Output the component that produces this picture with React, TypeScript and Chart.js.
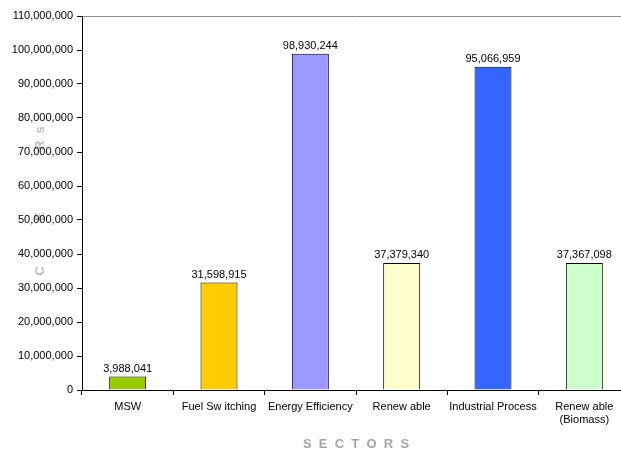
import React, { useEffect, useRef } from "react";
import { Chart, registerables } from "chart.js";

Chart.register(...registerables);

const categories: (string | string[])[] = [
  "MSW",
  "Fuel Sw itching",
  "Energy Efficiency",
  "Renew able",
  "Industrial Process",
  ["Renew able", "(Biomass)"],
];
const cers: number[] = [3988041, 31598915, 98930244, 37379340, 95066959, 37367098];
const barColors: string[] = ["#99cc00", "#ffcc00", "#9999ff", "#ffffcc", "#3366ff", "#ccffcc"];
const yMax = 110000000;
const yStep = 10000000;
const xTitle = "S  E  C  T  O  R  S";
const yTitleLetters: string[] = ["C", "E", "R", "s"];

const FONT = "'Liberation Sans', Arial, sans-serif";
const fmt = (v: number) => v.toLocaleString("en-US");

export default function App() {
  const ref = useRef<HTMLCanvasElement | null>(null);
  useEffect(() => {
    if (!ref.current) return;
    const valueLabels = {
      id: "valueLabels",
      afterDatasetsDraw(chart: any) {
        const ctx = chart.ctx;
        const meta = chart.getDatasetMeta(0);
        ctx.save();
        ctx.font = `11px ${FONT}`;
        ctx.fillStyle = "#000";
        ctx.textAlign = "center";
        ctx.textBaseline = "bottom";
        meta.data.forEach((el: any, i: number) => {
          ctx.fillText(fmt(cers[i]), el.x, el.y - 2);
        });
        ctx.restore();
      },
    };
    const yTitle = {
      id: "yTitle",
      beforeDraw(chart: any) {
        const ctx = chart.ctx;
        const y = chart.scales.y;
        ctx.save();
        ctx.font = `bold 13px ${FONT}`;
        ctx.fillStyle = "#bdbdbd";
        ctx.textAlign = "center";
        ctx.textBaseline = "middle";
        // letters placed along the value axis (C, E, R, s from bottom to top)
        const pos = [35000000, 51000000, 72000000, 76500000];
        yTitleLetters.forEach((l, i) => {
          const py = y.getPixelForValue(pos[i]);
          ctx.save();
          ctx.translate(40, py);
          ctx.rotate(-Math.PI / 2);
          ctx.fillText(l, 0, 0);
          ctx.restore();
        });
        ctx.restore();
      },
    };
    const chart = new Chart(ref.current, {
      type: "bar",
      data: {
        labels: categories,
        datasets: [
          {
            data: cers,
            backgroundColor: barColors,
            borderColor: "#000",
            borderWidth: 1,
            barPercentage: 0.405,
            categoryPercentage: 1,
          },
        ],
      },
      options: {
        animation: false,
        responsive: false,
        devicePixelRatio: 1,
        layout: { padding: { left: 0, top: 16, right: 10, bottom: 0 } },
        plugins: { legend: { display: false }, tooltip: { enabled: false } },
        scales: {
          x: {
            type: "category",
            grid: { offset: true, drawOnChartArea: false, tickLength: 5, color: "#000" },
            border: { color: "#000", width: 1 },
            ticks: { font: { family: FONT, size: 11 }, color: "#000", padding: 5, maxRotation: 0, autoSkip: false },
            title: {
              display: true,
              text: xTitle,
              color: "#a6a6a6",
              font: { family: FONT, size: 13, weight: "bold" },
              padding: { top: 0, bottom: -2 },
            },
            afterFit: (s: any) => {
              s.height = 60;
            },
          },
          x2: {
            type: "category",
            position: "top",
            labels: categories as any,
            grid: { display: false },
            ticks: { display: false },
            border: { display: true, color: "#8c8c8c", width: 1 },
            afterFit: (s: any) => {
              s.height = 0;
            },
          },
          y: {
            min: 0,
            max: yMax,
            grid: { drawOnChartArea: false, tickLength: 5, color: "#000" },
            border: { color: "#000", width: 1 },
            ticks: {
              stepSize: yStep,
              font: { family: FONT, size: 11 },
              color: "#000",
              padding: 4,
              callback: (v: any) => fmt(Number(v)),
            },
            afterFit: (s: any) => {
              s.width = 82;
            },
          },
        },
      } as any,
      plugins: [valueLabels, yTitle],
    });
    return () => chart.destroy();
  }, []);
  return (
    <div style={{ position: "fixed", left: 0, top: 0, width: 621, height: 450, overflow: "hidden", background: "#fff" }}>
      <canvas ref={ref} width={640} height={450} />
    </div>
  );
}
